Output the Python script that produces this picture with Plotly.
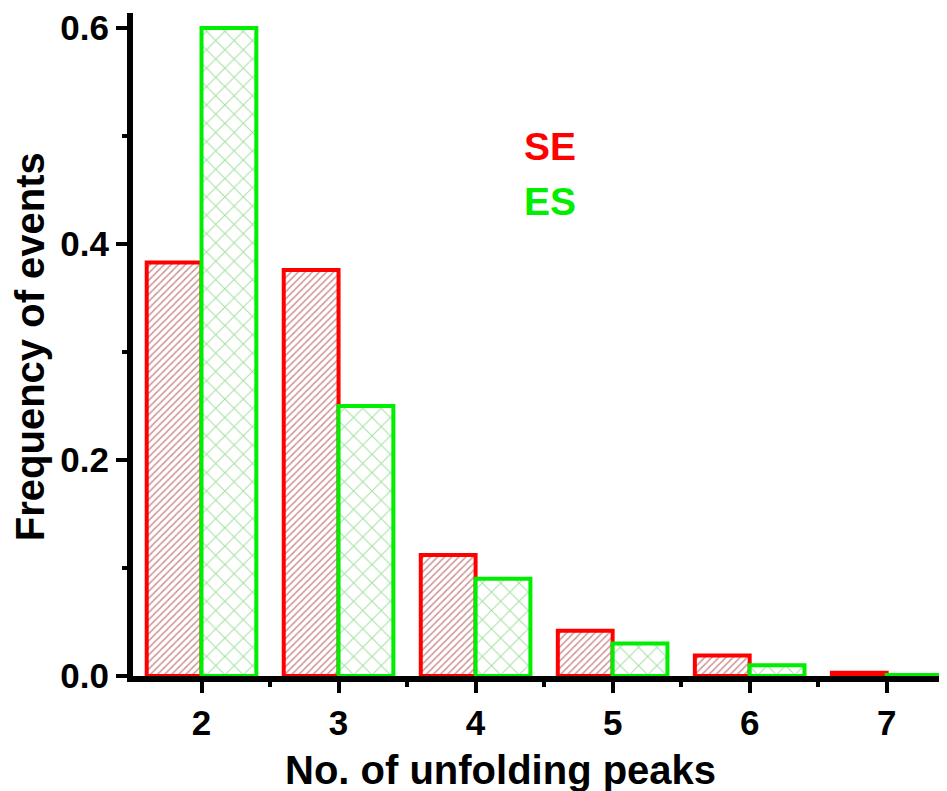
import plotly.graph_objects as go

categories = [2, 3, 4, 5, 6, 7]
se_values = [0.383, 0.376, 0.112, 0.042, 0.019, 0.003]
es_values = [0.600, 0.250, 0.090, 0.030, 0.010, 0.001]
y_ticks = [0.0, 0.2, 0.4, 0.6]
x_title = "No. of unfolding peaks"
y_title = "Frequency of events"

FONT = "Liberation Sans, Arial, sans-serif"

fig = go.Figure()
fig.add_trace(go.Bar(
    x=categories, y=se_values, name="SE",
    marker=dict(
        color="white",
        line=dict(color="#FF0000", width=4),
        pattern=dict(shape="/", fgcolor="#9E2A2A", bgcolor="white", size=5, solidity=0.3),
    ),
))
fig.add_trace(go.Bar(
    x=categories, y=es_values, name="ES",
    marker=dict(
        color="white",
        line=dict(color="#00EE00", width=4),
        pattern=dict(shape="x", fgcolor="#4CC44C", bgcolor="white", size=13, solidity=0.16),
    ),
))

fig.update_layout(
    width=939, height=783,
    margin=dict(l=125, r=0, t=5, b=115),
    paper_bgcolor="white", plot_bgcolor="white",
    barmode="group", bargap=0.2, bargroupgap=0,
    showlegend=False,
    font=dict(family=FONT, color="black"),
)
fig.update_xaxes(
    range=[1.5, 7.44], tickmode="array", tickvals=categories,
    ticktext=[str(c) for c in categories],
    showline=True, linecolor="black", linewidth=6,
    ticks="outside", ticklen=11, tickwidth=4, tickcolor="black",
    minor=dict(tickvals=[c + 0.5 for c in categories[:-1]], ticks="outside", ticklen=5, tickwidth=4, tickcolor="black"),
    tickfont=dict(family=FONT, size=35, weight="bold", color="black"),
    showgrid=False, zeroline=False,
)
fig.update_yaxes(
    range=[0, 0.614], tickmode="array", tickvals=y_ticks,
    ticktext=[f"{v:.1f}" for v in y_ticks],
    showline=True, linecolor="black", linewidth=6,
    ticks="outside", ticklen=11, tickwidth=4, tickcolor="black",
    minor=dict(tickvals=[0.1, 0.3, 0.5], ticks="outside", ticklen=5, tickwidth=4, tickcolor="black"),
    tickfont=dict(family=FONT, size=35, weight="bold", color="black"),
    showgrid=False, zeroline=False,
)

fig.add_annotation(text=x_title, xref="paper", yref="paper", x=0.452, y=-0.142,
                   xanchor="center", yanchor="middle", showarrow=False,
                   font=dict(family=FONT, size=40, weight="bold", color="black"))
fig.add_annotation(text=y_title, xref="paper", yref="paper", x=-0.1265, y=0.496,
                   xanchor="center", yanchor="middle", showarrow=False, textangle=-90,
                   font=dict(family=FONT, size=40, weight="bold", color="black"))
fig.add_annotation(text="SE", xref="paper", yref="paper", x=0.512, y=0.799,
                   xanchor="center", yanchor="middle", showarrow=False,
                   font=dict(family=FONT, size=39, weight="bold", color="#FF0000"))
fig.add_annotation(text="ES", xref="paper", yref="paper", x=0.512, y=0.716,
                   xanchor="center", yanchor="middle", showarrow=False,
                   font=dict(family=FONT, size=39, weight="bold", color="#00EE00"))

fig.write_html("out.html")
